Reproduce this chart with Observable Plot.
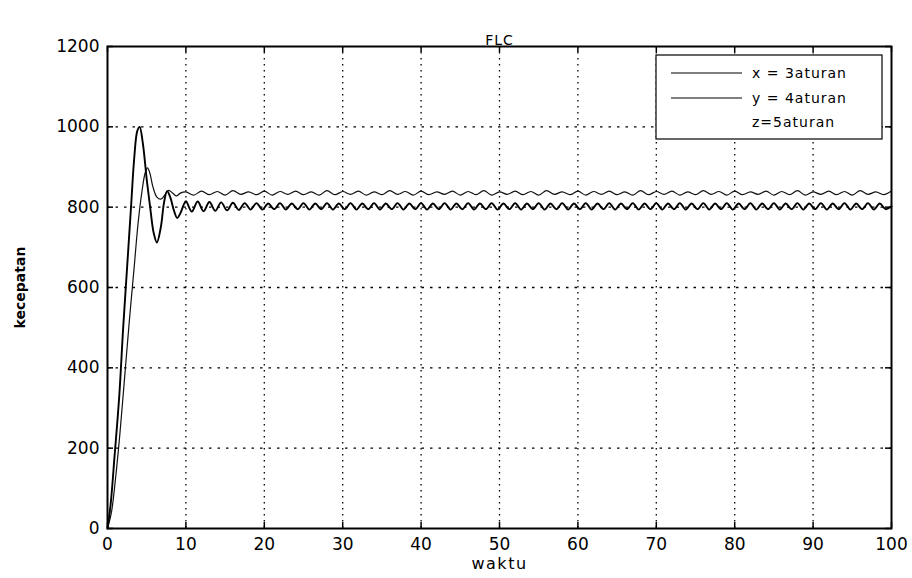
<!DOCTYPE html>
<html><head><meta charset="utf-8">
<script src="https://cdn.jsdelivr.net/npm/d3@7"></script>
<script src="https://cdn.jsdelivr.net/npm/@observablehq/plot@0.6"></script>
<style>body{margin:0;background:#fff} svg{display:block}</style>
</head><body><div id="chart"></div>
<script>
const title = "FLC";
const xLabel = "waktu";
const yLabel = "kecepatan";
const xTicks = [0,10,20,30,40,50,60,70,80,90,100];
const yTicks = [0,200,400,600,800,1000,1200];
const seriesNames = ["x = 3aturan", "y = 4aturan", "z=5aturan"];

// series x = 3aturan : transient (t, v) then steady values every 0.75 from t=10
const x3T = [0,0.4,0.9,1.5,2.0,2.5,3.0,3.4,3.8,4.1,4.5,5.0,5.5,5.9,6.3,6.8,7.2,7.6,8.0,8.5,8.9,9.3,9.7];
const x3V = [0,60,180,330,500,650,800,920,990,1000,960,870,790,735,712,750,810,840,825,790,773,785,805];
const x3Steady = [
 815,789,814,790,813,791,812,792,811,793,
 810,794,810,794,809,795,810,794,809,795,
 810,794,809,795,810,794,809,795,810,794,
 809,795,810,794,809,795,810,794,809,795,
 810,794,809,795,810,794,809,795,810,794,
 809,795,810,794,809,795,810,794,809,795,
 810,794,809,795,810,794,809,795,810,794,
 809,795,810,794,809,795,810,794,809,795,
 810,794,809,795,810,794,809,795,810,794,
 809,795,810,794,809,795,810,794,809,795,
 810,794,809,795,810,794,809,795,810,794,
 809,795,810,794,809,795,810,794,809,795,
 802];

// series y = 4aturan : transient (t, v) then steady values every 1.0 from t=10
const y4T = [0,0.5,1.0,1.6,2.2,2.8,3.4,3.9,4.4,4.8,5.1,5.4,5.8,6.3,6.8,7.3,7.8,8.3,8.8,9.3];
const y4V = [0,40,120,240,380,520,650,760,840,885,898,885,850,825,820,830,842,835,828,835];
const y4Steady = [
 838,830,840,831,839,830,841,832,838,831,
 840,830,839,832,840,831,838,830,841,831,
 839,832,840,830,838,831,841,832,839,830,
 840,831,838,832,840,830,839,831,841,830,
 838,832,840,831,839,830,841,832,838,831,
 840,830,839,832,840,831,838,830,841,831,
 839,832,840,830,838,831,841,832,839,830,
 840,831,838,832,840,830,839,831,841,830,
 838,832,840,831,839,830,841,832,838,831,
 840];

const W = 912, H = 578, mL = 107, mR = 21, mT = 46, mB = 50;
const pw = W - mL - mR, ph = H - mT - mB;

const rows = [];
x3T.forEach((t, i) => rows.push({s: seriesNames[0], t, v: x3V[i]}));
x3Steady.forEach((v, i) => rows.push({s: seriesNames[0], t: 10 + i * 0.75, v}));
y4T.forEach((t, i) => rows.push({s: seriesNames[1], t, v: y4V[i]}));
y4Steady.forEach((v, i) => rows.push({s: seriesNames[1], t: 10 + i * 1.0, v}));

const font = "'DejaVu Sans', sans-serif";
const chart = Plot.plot({
  width: W, height: H,
  marginLeft: mL, marginRight: mR, marginTop: mT, marginBottom: mB,
  style: {fontFamily: font, fontSize: "17px", background: "#fff", color: "#000"},
  x: {domain: [0, 100]},
  y: {domain: [0, 1200]},
  marks: [
    Plot.ruleX(xTicks.slice(1, -1), {x: d => d, stroke: "#000", strokeWidth: 1.3, strokeDasharray: "1.5,4.5"}),
    Plot.ruleY(yTicks.slice(1, -1), {y: d => d, stroke: "#000", strokeWidth: 1.3, strokeDasharray: "2.5,6"}),
    Plot.tickX(xTicks, {x: d => d, insetTop: ph - 6, stroke: "#000", strokeWidth: 1.5}),
    Plot.tickX(xTicks, {x: d => d, insetBottom: ph - 6, stroke: "#000", strokeWidth: 1.5}),
    Plot.tickY(yTicks, {y: d => d, insetRight: pw - 6, stroke: "#000", strokeWidth: 1.5}),
    Plot.tickY(yTicks, {y: d => d, insetLeft: pw - 6, stroke: "#000", strokeWidth: 1.5}),
    Plot.line(rows.filter(d => d.s === seriesNames[1]), {x: "t", y: "v", stroke: "#111", strokeWidth: 1.2, curve: "catmull-rom"}),
    Plot.line(rows.filter(d => d.s === seriesNames[0]), {x: "t", y: "v", stroke: "#000", strokeWidth: 1.9, curve: "catmull-rom"}),
    Plot.frame({stroke: "#000", strokeWidth: 2}),
    Plot.axisX(xTicks, {tickSize: 0, tickPadding: 9, label: null, fontSize: 17, tickFormat: d => String(d)}),
    Plot.axisY(yTicks, {tickSize: 0, tickPadding: 8, label: null, fontSize: 17, tickFormat: d => String(d)}),
    Plot.text([title], {text: d => d, frameAnchor: "top", dy: -11, fontSize: 14, fill: "#000"}),
    Plot.text([xLabel], {text: d => d, frameAnchor: "bottom", dy: 40, fontSize: 16, fill: "#000"}),
    Plot.text([yLabel], {text: d => d, frameAnchor: "left", textAnchor: "middle", dx: -87, rotate: -90, fontSize: 14, fontWeight: "bold", fill: "#000"})
  ]
});
document.getElementById("chart").appendChild(chart);

// legend
const svg = d3.select(chart);
const lg = svg.append("g").attr("text-anchor", "start");
lg.append("rect").attr("x", 656).attr("y", 55).attr("width", 226).attr("height", 84)
  .attr("fill", "#fff").attr("stroke", "#000").attr("stroke-width", 1.2);
const legendRows = [
  {name: seriesNames[0], line: true, y: 73},
  {name: seriesNames[1], line: true, y: 98},
  {name: seriesNames[2], line: false, y: 122}
];
legendRows.forEach(r => {
  if (r.line) lg.append("line").attr("x1", 671).attr("x2", 742).attr("y1", r.y).attr("y2", r.y)
    .attr("stroke", "#000").attr("stroke-width", 1.2);
  lg.append("text").attr("x", 752).attr("y", r.y).attr("dy", "0.35em").attr("text-anchor", "start")
    .attr("font-size", 14).attr("letter-spacing", "1px").attr("font-family", font).attr("fill", "#000")
    .text(r.name);
});
svg.selectAll("text").filter(function(){ return this.textContent === title; }).attr("letter-spacing", "1px");
svg.selectAll("text").filter(function(){ return this.textContent === xLabel; }).attr("letter-spacing", "1.5px");
</script>
</body></html>
